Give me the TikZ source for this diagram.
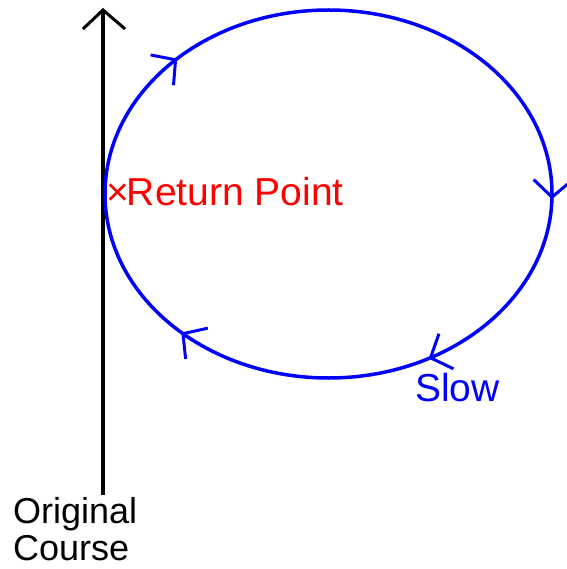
\documentclass[tikz,border=0pt]{standalone}
\usepackage{fontspec}
\setmainfont{Liberation Sans}
\usetikzlibrary{arrows.meta,decorations.markings}
\begin{document}
\begin{tikzpicture}[x=1pt,y=-1pt,
  course/.style={line width=4pt,black},
  headline/.style={line width=3pt,black},
  chev/.style={decoration={markings,mark=at position #1 with {\arrow{Straight Barb[length=17pt,width=38pt,line width=3pt]}}}},
  loop/.style={line width=3.5pt,blue,
    postaction={decorate,chev=0.004},
    postaction={decorate,chev=0.170},
    postaction={decorate,chev=0.372},
    postaction={decorate,chev=0.624}},
  lbl/.style={inner sep=0pt,anchor=base west,font=\fontsize{39}{40}\selectfont},
  lblsmall/.style={lbl,font=\fontsize{36}{38}\selectfont}]
\useasboundingbox (0,0) rectangle (566,569);
\coordinate (bottom) at (103,495);
\coordinate (top) at (103,10);
\coordinate (hl) at (84,28);
\coordinate (hr) at (124,28);
\coordinate (east) at (552,194);
\draw[course] (bottom) -- (top);
\draw[headline,line cap=rect] (hl) -- (top) -- (hr);
\draw[loop] (east) arc[start angle=0,end angle=360,x radius=223.5,y radius=184];
\node[lbl,text=red] (ret) at (106,205) {×\kern-2pt Return Point};
\node[lbl,text=blue] (slow) at (415,401) {Slow};
\node[lblsmall] (orig) at (13,523) {Original};
\node[lblsmall] (crs) at (13,560) {Course};
\end{tikzpicture}
\end{document}
